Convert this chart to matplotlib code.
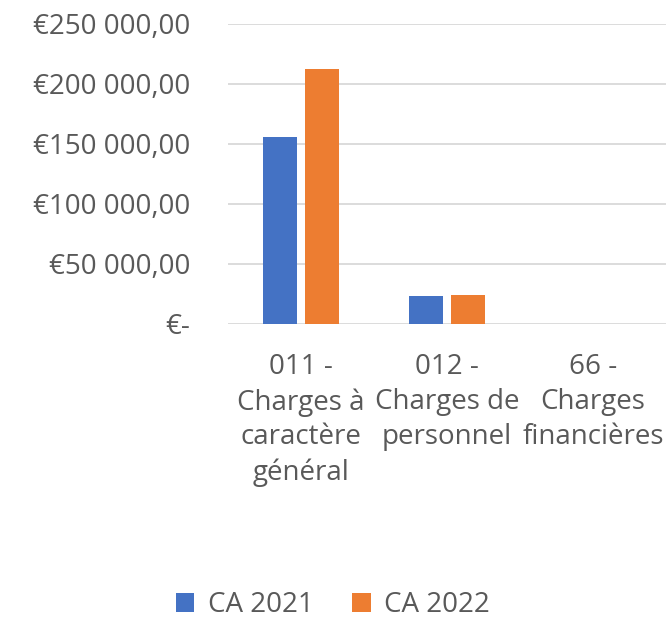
import matplotlib
matplotlib.use("Agg")
import matplotlib.pyplot as plt
import numpy as np

categories = ["011 -\nCharges à\ncaractère\ngénéral",
              "012 -\nCharges de\npersonnel",
              "66 -\nCharges\nfinancières"]
ca_2021 = [155800, 23000, 0]
ca_2022 = [212500, 24200, 0]
y_ticks = [0, 50000, 100000, 150000, 200000, 250000]
y_labels = ["€-", "€50 000,00", "€100 000,00", "€150 000,00",
            "€200 000,00", "€250 000,00"]

plt.rcParams['font.family'] = ['Open Sans', 'DejaVu Sans']
text_col = '#595959'
fs = 20

fig = plt.figure(figsize=(6.66, 6.2), dpi=100)
ax = fig.add_axes([228 / 666, 1 - 324 / 620, 438 / 666, 300 / 620])

x = np.arange(len(categories))
w = 0.233
ax.bar(x - w / 2 - 0.027, ca_2021, w, color='#4472C4', label='CA 2021', zorder=3)
ax.bar(x + w / 2 + 0.027, ca_2022, w, color='#ED7D31', label='CA 2022', zorder=3)

ax.set_xlim(-0.5, 2.5)
ax.set_ylim(0, 250000)
ax.set_yticks(y_ticks)
ax.set_yticklabels(y_labels, color=text_col, fontsize=fs)
ax.set_xticks(x)
ax.set_xticklabels(categories, color=text_col, fontsize=fs, linespacing=1.32,
                   va='top')
ax.tick_params(axis='both', length=0)
ax.tick_params(axis='y', pad=27)
ax.tick_params(axis='x', pad=21)
ax.grid(axis='y', color='#D9D9D9', linewidth=1.3, zorder=0)
for s in ax.spines.values():
    s.set_visible(False)

fig.legend(loc='center', bbox_to_anchor=(0.5, 1 - 605 / 620), ncol=2,
           frameon=False, fontsize=fs, labelcolor=text_col,
           handlelength=0.65, handleheight=0.65, columnspacing=1.4,
           handletextpad=0.5)

fig.savefig("out.png", dpi=100)
